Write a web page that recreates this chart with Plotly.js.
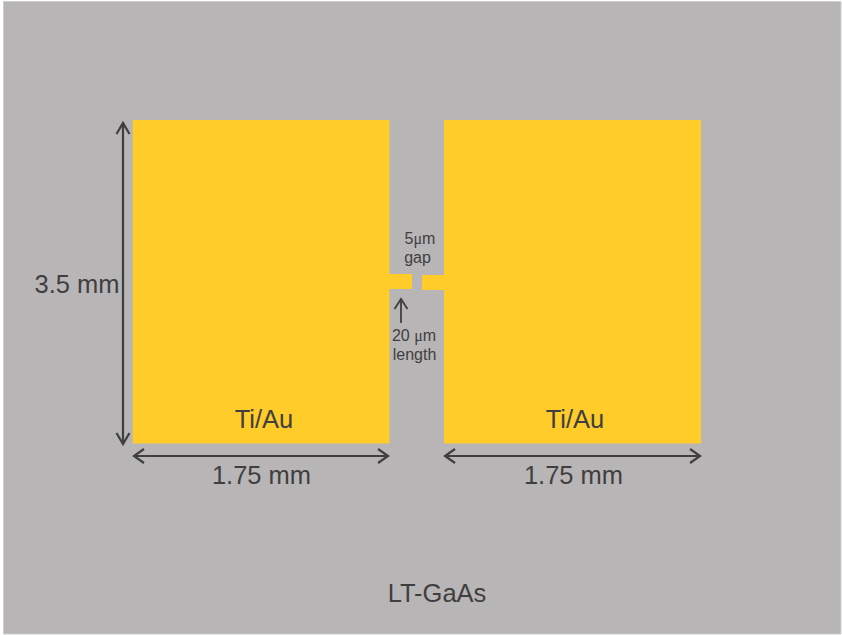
<!DOCTYPE html>
<html><head><meta charset="utf-8">
<script src="https://cdn.plot.ly/plotly-3.0.1.min.js"></script>
<style>html,body{margin:0;padding:0;background:#fff}</style></head>
<body><div id="chart" style="width:842px;height:635px"></div>
<script>
var substrateX=[3.5,841,841,3.5,3.5], substrateY=[1.5,1.5,634,634,1.5];
var leftPadX=[132.7,389.5,389.5,412,412,389.5,389.5,132.7,132.7];
var leftPadY=[120,120,274,274,289,289,443.5,443.5,120];
var rightPadX=[444,701,701,444,444,422,422,444,444];
var rightPadY=[120,120,443.5,443.5,290,290,275,275,120];
var heightArrowX=[116.5,123,129.5,null,123,123,null,116.5,123,129.5];
var heightArrowY=[134,123,134,null,123,444,null,433,444,433];
var widthArrowLX=[144,134,144,null,134,388,null,378,388,378];
var widthArrowRX=[455,445,455,null,445,700,null,690,700,690];
var widthArrowY=[449,456,463,null,456,456,null,449,456,463];
var lengthArrowX=[394.5,401,407.5,null,401,401];
var lengthArrowY=[309,299,309,null,299,323];
var labelText=["3.5 mm","Ti/Au","Ti/Au","1.75 mm","1.75 mm","LT-GaAs"];
var labelX=[77,264,575,261.5,573.5,437];
var labelY=[286.5,422,422,478,478,596];
var smallText=["5<span style=\"font-family:'Liberation Serif'\">μ</span>m","gap","20 <span style=\"font-family:'Liberation Serif'\">μ</span>m","length"];
var smallX=[420,417.5,414,414.5];
var smallY=[239.5,258.5,336.5,356];
var GOLD="#FFCC29",GREY="#B8B5B6",DARK="#3F3F40";
function poly(x,y,fill){return {x:x,y:y,mode:"lines",fill:"toself",fillcolor:fill,line:{width:0,color:fill},hoverinfo:"skip",type:"scatter"};}
function arrow(x,y,w){return {x:x,y:y,mode:"lines",line:{width:w,color:DARK},connectgaps:false,hoverinfo:"skip",type:"scatter"};}
function txt(x,y,t,s){return {x:x,y:y,text:t,mode:"text",textposition:"middle center",textfont:{family:"Liberation Sans, Arial, sans-serif",size:s,color:DARK},hoverinfo:"skip",type:"scatter"};}
var traces=[
 {x:substrateX,y:substrateY,mode:"lines",fill:"toself",fillcolor:GREY,line:{width:1,color:"#CFCDCD"},hoverinfo:"skip",type:"scatter"},
 poly(leftPadX,leftPadY,GOLD),poly(rightPadX,rightPadY,GOLD),
 arrow(heightArrowX,heightArrowY,2.2),arrow(widthArrowLX,widthArrowY,2.2),arrow(widthArrowRX,widthArrowY,2.2),arrow(lengthArrowX,lengthArrowY,1.8),
 txt(labelX,labelY,labelText,25.5),
 txt(smallX,smallY,smallText,16)
];
var layout={width:842,height:635,margin:{l:0,r:0,t:0,b:0},paper_bgcolor:"#fff",plot_bgcolor:"#fff",showlegend:false,
 xaxis:{range:[0,842],visible:false,fixedrange:true},yaxis:{range:[635,0],visible:false,fixedrange:true}};
Plotly.newPlot("chart",traces,layout,{staticPlot:true,displayModeBar:false});
</script></body></html>
